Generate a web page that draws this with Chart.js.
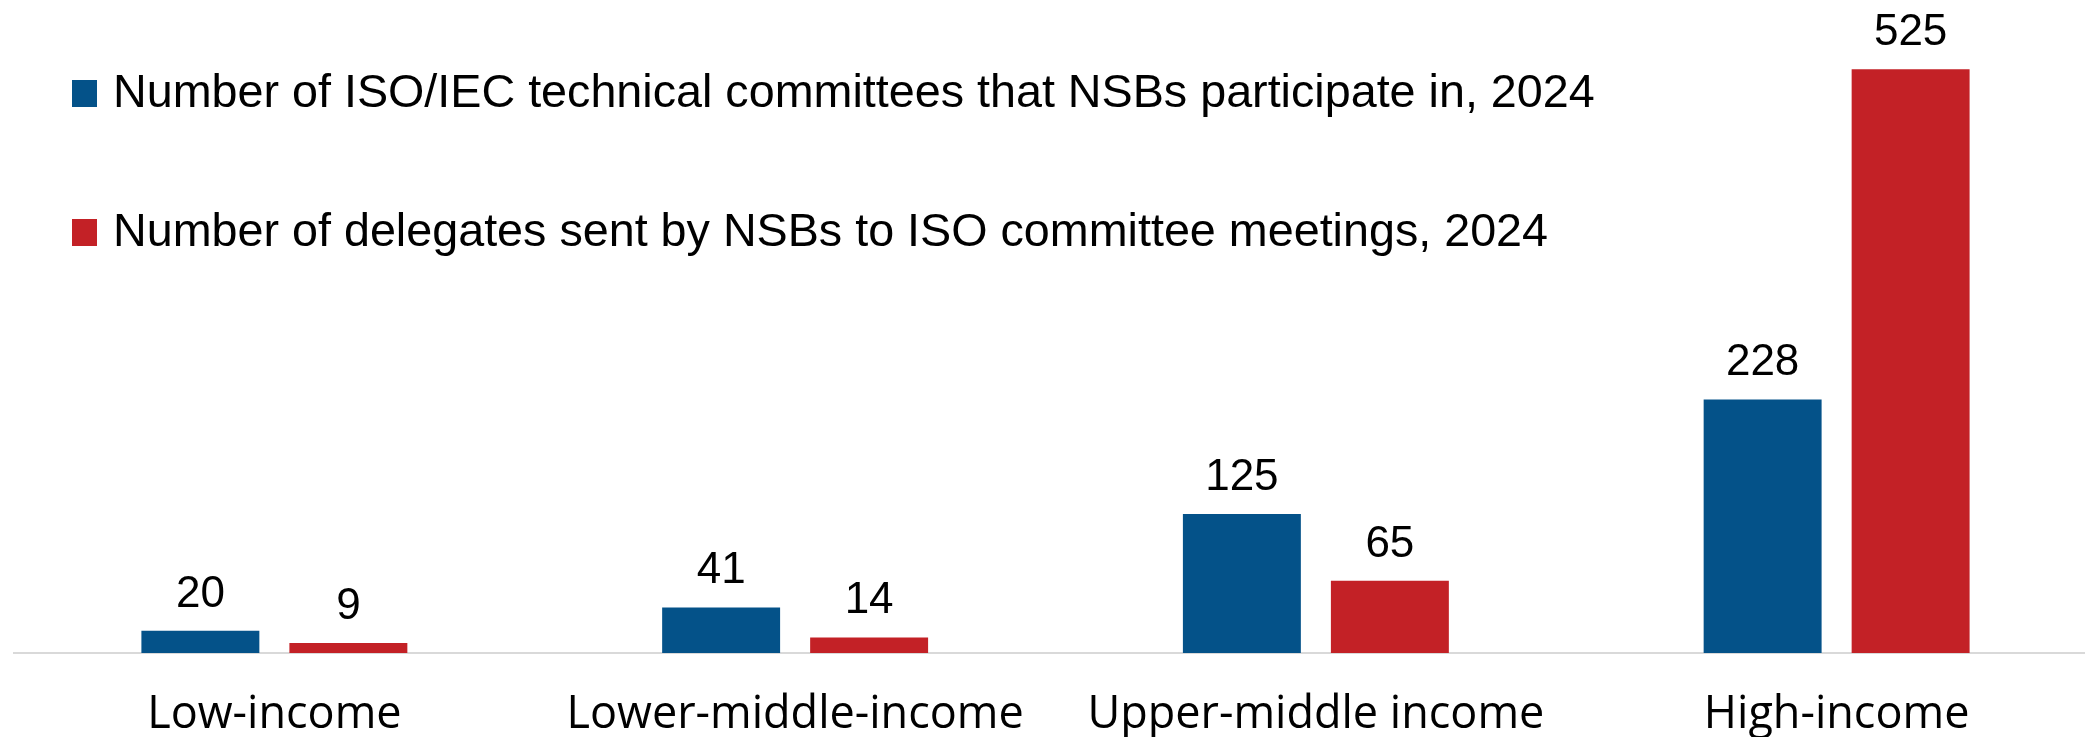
<!DOCTYPE html>
<html>
<head>
<meta charset="utf-8">
<script src="https://cdn.jsdelivr.net/npm/chart.js@4"></script>
<style>
    html, body { margin: 0; padding: 0; background: #fff; overflow: hidden; }
    #wrap { position: relative; width: 2100px; height: 737px; }
    #legend { position: absolute; left: 72px; top: 0; }
    .legend-item { position: absolute; left: 0; white-space: nowrap; height: 52px; line-height: 52px;
        font-family: 'Liberation Sans', Arial, sans-serif; font-size: 46.7px; color: #000; padding-left: 41px; }
    .legend-box { position: absolute; left: 0; top: 15px; width: 25px; height: 27px; }
</style>
</head>
<body>
<div id="wrap">
    <canvas id="chart" width="2100" height="737"></canvas>
    <div id="legend"></div>
</div>
<script>
// Chart data
const categories = ['Low-income', 'Lower-middle-income', 'Upper-middle income', 'High-income'];
const seriesLabels = [
    'Number of ISO/IEC technical committees that NSBs participate in, 2024',
    'Number of delegates sent by NSBs to ISO committee meetings, 2024'
];
const committees = [20, 41, 125, 228];
const delegates = [9, 14, 65, 525];
const seriesColors = ['#045289', '#C32126'];

// Value labels above each bar
const barLabels = {
    id: 'barLabels',
    afterDatasetsDraw(chart) {
        const ctx = chart.ctx;
        ctx.save();
        ctx.font = "44px 'Liberation Sans', Arial, sans-serif";
        ctx.fillStyle = '#000';
        ctx.textAlign = 'center';
        ctx.textBaseline = 'alphabetic';
        chart.data.datasets.forEach((ds, i) => {
            chart.getDatasetMeta(i).data.forEach((bar, j) => {
                ctx.fillText(ds.data[j], bar.x, bar.y - 24);
            });
        });
        ctx.restore();
    }
};

const chart = new Chart(document.getElementById('chart').getContext('2d'), {
    type: 'bar',
    data: {
        labels: categories,
        datasets: [
            { label: seriesLabels[0], data: committees, backgroundColor: seriesColors[0] },
            { label: seriesLabels[1], data: delegates, backgroundColor: seriesColors[1] }
        ]
    },
    options: {
        responsive: false,
        animation: false,
        layout: { padding: { left: 14, right: 3, top: 8, bottom: 0 } },
        datasets: { bar: { categoryPercentage: 0.5684, barPercentage: 0.797, borderWidth: 0 } },
        plugins: {
            legend: { display: false },
            tooltip: { enabled: false }
        },
        scales: {
            x: {
                grid: { display: false, drawTicks: false },
                border: { display: true, color: '#d9d9d9', width: 2 },
                ticks: {
                    color: '#000',
                    padding: 40,
                    font: { family: "'Open Sans', sans-serif", size: 45, lineHeight: 1 }
                },
                afterFit(scale) { scale.height = 84; }
            },
            y: { display: false, min: 0, max: 580 }
        }
    },
    plugins: [barLabels]
});

// Build the HTML legend from the chart's own legend items
function buildLegend() {
    const legendEl = document.getElementById('legend');
    const items = chart.options.plugins.legend.labels.generateLabels(chart);
    items.forEach((item, i) => {
        const div = document.createElement('div');
        div.className = 'legend-item';
        div.style.top = (65 + i * 139) + 'px';
        const box = document.createElement('span');
        box.className = 'legend-box';
        box.style.background = item.fillStyle;
        div.appendChild(box);
        div.appendChild(document.createTextNode(item.text));
        legendEl.appendChild(div);
    });
}

buildLegend();
</script>
</body>
</html>
